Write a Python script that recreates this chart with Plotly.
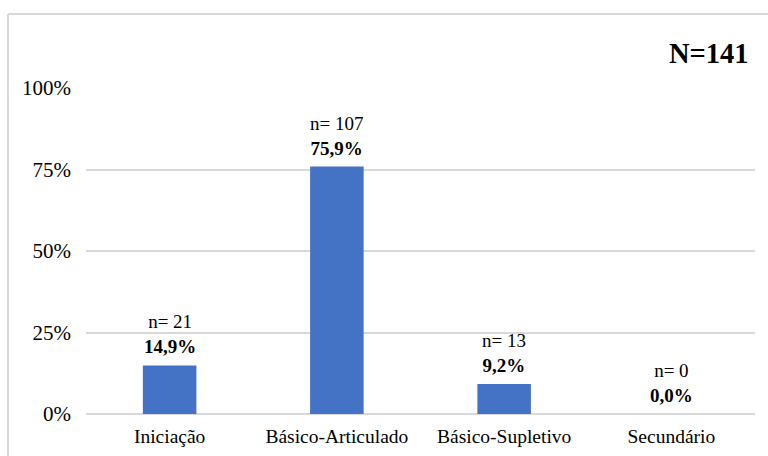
import plotly.graph_objects as go

categories = ["Iniciação", "Básico-Articulado", "Básico-Supletivo", "Secundário"]
counts = [21, 107, 13, 0]
percents = [14.9, 75.9, 9.2, 0.0]
tick_vals = [0, 25, 50, 75, 100]
tick_text = ["0%", "25%", "50%", "75%", "100%"]
total_label = "N=141"

FONT = "Liberation Serif, Times New Roman, serif"

fig = go.Figure()
fig.add_trace(go.Bar(
    x=categories, y=percents,
    marker=dict(color="#4472C4", line=dict(width=0)),
    width=0.32,
    hoverinfo="skip",
))

for c, n, p in zip(categories, counts, percents):
    fig.add_annotation(
        x=c, y=p, xref="x", yref="y",
        text=f"n= {n}<br><b>{p:.1f}%</b>".replace(".", ","),
        showarrow=False, yanchor="bottom", yshift=6,
        font=dict(family=FONT, size=19, color="#000000"),
    )

fig.add_annotation(
    x=0.994, y=1.107, xref="paper", yref="paper",
    text=f"<b>{total_label}</b>", showarrow=False,
    xanchor="right", yanchor="middle",
    font=dict(family=FONT, size=28.5, color="#000000"),
)

# chart border (left and top edges visible)
fig.add_shape(type="line", xref="paper", yref="paper",
              x0=-0.1166, x1=-0.1166, y0=-0.3, y1=1.227,
              line=dict(color="#D9D9D9", width=2), layer="below")
fig.add_shape(type="line", xref="paper", yref="paper",
              x0=-0.1166, x1=1.1, y0=1.227, y1=1.227,
              line=dict(color="#D9D9D9", width=2), layer="below")

fig.update_layout(
    width=768, height=456,
    margin=dict(l=86, r=13, t=88, b=42, autoexpand=False),
    paper_bgcolor="white", plot_bgcolor="white",
    showlegend=False,
    bargap=0.68,
    font=dict(family=FONT, size=19, color="#000000"),
    xaxis=dict(showgrid=False, showline=False, ticks="", zeroline=False,
               automargin=False, ticklabelstandoff=8,
               tickfont=dict(family=FONT, size=19.5, color="#000000")),
    yaxis=dict(range=[0, 100], tickvals=tick_vals, ticktext=tick_text,
               showgrid=True, gridcolor="#D9D9D9", gridwidth=1.5,
               zeroline=True, zerolinecolor="#D9D9D9", zerolinewidth=1.5,
               showline=False, ticks="", ticklabelstandoff=14,
               automargin=False,
               tickfont=dict(family=FONT, size=21, color="#000000")),
)

fig.write_html(
    "out.html",
    config={"displayModeBar": False},
    post_script="document.body.style.margin='0';document.body.style.overflow='hidden';",
)
